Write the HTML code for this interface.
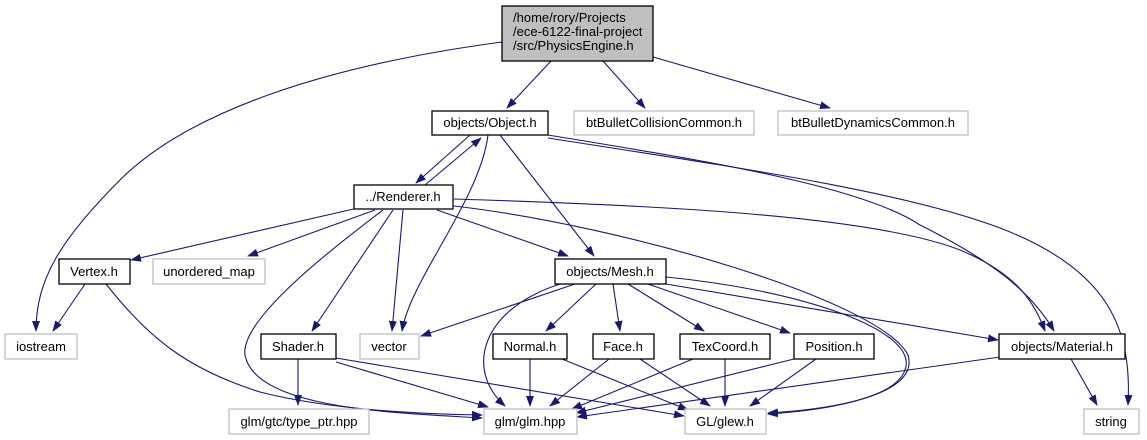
<!DOCTYPE html>
<html><head><meta charset="utf-8"><style>
html,body{margin:0;padding:0;background:#fff;}
svg{display:block;}
text{font-family:"Liberation Sans",sans-serif;font-size:13px;fill:#000;}
.e{fill:none;stroke:#191970;stroke-width:1.1;marker-end:url(#a);}
.b{fill:#fff;stroke:#000;stroke-width:1.3;}
.g{fill:#fff;stroke:#bfbfbf;stroke-width:1.3;}
</style></head><body>
<svg width="1147" height="440" viewBox="0 0 1147 440" xmlns="http://www.w3.org/2000/svg">
<defs><marker id="a" markerWidth="11" markerHeight="8" refX="10" refY="4" orient="auto" markerUnits="userSpaceOnUse"><polygon points="0,0 11,4 0,8" fill="#191970"/></marker></defs>
<path class="e" d="M502,42 C330,65 190,110 120,180 C60,240 36,280 36,331"/>
<path class="e" d="M551,61 L507,108"/>
<path class="e" d="M603,61 L645,108"/>
<path class="e" d="M653,57 L830,108"/>
<path class="e" d="M470,135 L416,183"/>
<path class="e" d="M425,185 L481,138"/>
<path class="e" d="M488,135 C480,200 410,280 402,331"/>
<path class="e" d="M500,135 L594,256"/>
<path class="e" d="M548,135 C700,160 860,185 920,225 C990,260 1030,290 1054,331"/>
<path class="e" d="M548,138 C720,165 900,190 1000,228 C1110,270 1132,330 1128,405"/>
<path class="e" d="M454,199 C650,205 870,215 960,250 C1020,275 1035,305 1045,331"/>
<path class="e" d="M454,206 C620,225 880,300 908,355 C920,395 830,410 768,414"/>
<path class="e" d="M358,208 L131,260"/>
<path class="e" d="M375,210 L248,256"/>
<path class="e" d="M383,210 C330,250 240,320 245,355 C255,410 400,413 482,418"/>
<path class="e" d="M393,210 L312,331"/>
<path class="e" d="M403,210 L392,331"/>
<path class="e" d="M437,210 L568,256"/>
<path class="e" d="M85,284 L53,331"/>
<path class="e" d="M106,284 C150,340 190,370 260,392 C330,410 420,414 482,415"/>
<path class="e" d="M298,359 L298,405"/>
<path class="e" d="M336,362 L488,407"/>
<path class="e" d="M336,358 L684,416"/>
<path class="e" d="M575,284 L421,336"/>
<path class="e" d="M560,284 C480,310 465,370 505,406"/>
<path class="e" d="M596,284 L546,331"/>
<path class="e" d="M613,284 L620,331"/>
<path class="e" d="M628,284 L704,331"/>
<path class="e" d="M645,283 L790,333"/>
<path class="e" d="M666,284 L998,340"/>
<path class="e" d="M666,277 C800,290 920,330 905,370 C895,400 820,410 768,413"/>
<path class="e" d="M530,359 L530,406"/>
<path class="e" d="M562,359 L688,410"/>
<path class="e" d="M609,359 L550,406"/>
<path class="e" d="M640,359 L710,406"/>
<path class="e" d="M693,359 L572,409"/>
<path class="e" d="M725,359 L725,406"/>
<path class="e" d="M794,359 L576,413"/>
<path class="e" d="M816,359 L750,406"/>
<path class="e" d="M1000,357 L577,417"/>
<path class="e" d="M1071,359 L1097,405"/>
<rect x="502" y="6" width="151" height="55" fill="#bfbfbf" stroke="#000" stroke-width="1.3"/>
<text x="513" y="22">/home/rory/Projects</text>
<text x="513" y="36">/ece-6122-final-project</text>
<text x="513" y="50">/src/PhysicsEngine.h</text>
<rect class="b" x="432" y="111" width="116" height="24"/><text x="490" y="127" text-anchor="middle">objects/Object.h</text>
<rect class="g" x="574" y="111" width="180" height="24"/><text x="664" y="127" text-anchor="middle">btBulletCollisionCommon.h</text>
<rect class="g" x="778" y="111" width="190" height="24"/><text x="873" y="127" text-anchor="middle">btBulletDynamicsCommon.h</text>
<rect class="b" x="354" y="185" width="99" height="24"/><text x="403" y="201" text-anchor="middle">../Renderer.h</text>
<rect class="b" x="59" y="259" width="71" height="25"/><text x="94" y="276" text-anchor="middle">Vertex.h</text>
<rect class="g" x="153" y="259" width="112" height="25"/><text x="209" y="276" text-anchor="middle">unordered_map</text>
<rect class="b" x="555" y="259" width="111" height="25"/><text x="610" y="276" text-anchor="middle">objects/Mesh.h</text>
<rect class="g" x="5" y="334" width="72" height="25"/><text x="41" y="351" text-anchor="middle">iostream</text>
<rect class="b" x="261" y="334" width="75" height="25"/><text x="298" y="351" text-anchor="middle">Shader.h</text>
<rect class="g" x="360" y="334" width="59" height="25"/><text x="389" y="351" text-anchor="middle">vector</text>
<rect class="b" x="493" y="334" width="74" height="25"/><text x="530" y="351" text-anchor="middle">Normal.h</text>
<rect class="b" x="593" y="334" width="61" height="25"/><text x="623" y="351" text-anchor="middle">Face.h</text>
<rect class="b" x="680" y="334" width="90" height="25"/><text x="725" y="351" text-anchor="middle">TexCoord.h</text>
<rect class="b" x="794" y="334" width="80" height="25"/><text x="834" y="351" text-anchor="middle">Position.h</text>
<rect class="b" x="999" y="334" width="126" height="25"/><text x="1062" y="351" text-anchor="middle">objects/Material.h</text>
<rect class="g" x="229" y="409" width="140" height="25"/><text x="299" y="426" text-anchor="middle">glm/gtc/type_ptr.hpp</text>
<rect class="g" x="484" y="409" width="93" height="25"/><text x="530" y="426" text-anchor="middle">glm/glm.hpp</text>
<rect class="g" x="685" y="409" width="81" height="25"/><text x="725" y="426" text-anchor="middle">GL/glew.h</text>
<rect class="g" x="1084" y="409" width="55" height="25"/><text x="1111" y="426" text-anchor="middle">string</text>
</svg>
</body></html>
